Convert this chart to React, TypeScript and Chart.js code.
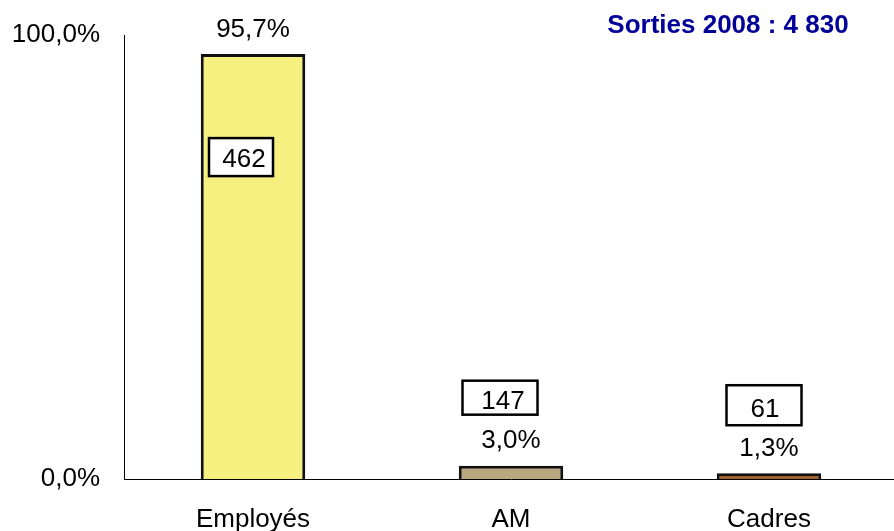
import React, { useEffect, useRef } from "react";
import { Chart, registerables } from "chart.js";

Chart.register(...registerables);

const categories = ["Employés", "AM", "Cadres"];
const percentValues = [95.7, 3.0, 1.3];
const countValues = [462, 147, 61];
const yTickValues = [0, 100];
const titleText = "Sorties 2008 : 4 830";

const barColors = ["#F5F07F", "#B8A77F", "#A0622C"];
// label placement (pixels, relative to each bar's top/centre)
const pctOffsetY = [24, 25, 24];
const boxDx = [-12, -11, -5];
const boxDy = [103, -68, -68];
const boxW = [64, 75, 75];
const boxH = [38, 34, 40];
const txtDx = [3, 3, 1];
const txtDy = [3, 4, 5];

const FONT = "'Liberation Sans', Arial, sans-serif";

const labelPlugin = {
  id: "customLabels",
  afterDatasetsDraw(chart: any) {
    const ctx = chart.ctx;
    const meta = chart.getDatasetMeta(0);
    ctx.save();
    meta.data.forEach((bar: any, i: number) => {
      const x = bar.x;
      const top = bar.y;
      ctx.fillStyle = "#000";
      ctx.font = `26px ${FONT}`;
      ctx.textAlign = "center";
      ctx.textBaseline = "middle";
      ctx.fillText(
        percentValues[i].toFixed(1).replace(".", ",") + "%",
        x,
        top - pctOffsetY[i]
      );
      const cx = x + boxDx[i];
      const cy = top + boxDy[i];
      ctx.fillStyle = "#fff";
      ctx.fillRect(cx - boxW[i] / 2, cy - boxH[i] / 2, boxW[i], boxH[i]);
      ctx.lineWidth = 2.5;
      ctx.strokeStyle = "#000";
      ctx.strokeRect(cx - boxW[i] / 2, cy - boxH[i] / 2, boxW[i], boxH[i]);
      ctx.fillStyle = "#000";
      ctx.fillText(String(countValues[i]), cx + txtDx[i], cy + txtDy[i]);
    });
    ctx.font = `bold 26px ${FONT}`;
    ctx.fillStyle = "#000099";
    ctx.textAlign = "center";
    ctx.textBaseline = "middle";
    ctx.fillText(titleText, 728, 26);
    ctx.restore();
  },
};

export default function App() {
  const ref = useRef<HTMLCanvasElement>(null);
  useEffect(() => {
    if (!ref.current) return;
    const chart = new Chart(ref.current, {
      type: "bar",
      data: {
        labels: categories,
        datasets: [
          {
            data: percentValues,
            backgroundColor: barColors,
            borderColor: "#111",
            borderWidth: 3,
            barPercentage: 0.405,
            categoryPercentage: 1,
          },
        ],
      },
      options: {
        animation: false,
        responsive: false,
        devicePixelRatio: 1,
        layout: { padding: { top: 35, left: 0, right: 0, bottom: 0 } },
        plugins: {
          legend: { display: false },
          tooltip: { enabled: false },
        },
        scales: {
          x: {
            grid: { display: false, drawTicks: false },
            border: { display: true, color: "#000", width: 1 },
            ticks: {
              color: "#000",
              font: { family: FONT, size: 26 },
              padding: 25,
              maxRotation: 0,
            },
            afterFit: (s: any) => {
              s.height = 52;
              s.paddingLeft = 0;
              s.paddingRight = 0;
            },
          },
          y: {
            min: 0,
            max: 100,
            grid: { display: false, drawTicks: false },
            border: { display: true, color: "#000", width: 1 },
            afterBuildTicks: (s: any) => {
              s.ticks = yTickValues.map((v) => ({ value: v }));
            },
            ticks: {
              color: "#000",
              font: { family: FONT, size: 26 },
              padding: 24,
              callback: (v: any) => Number(v).toFixed(1).replace(".", ",") + "%",
            },
            afterFit: (s: any) => {
              s.width = 124;
              s.paddingTop = 0;
              s.paddingBottom = 0;
            },
          },
        },
      },
      plugins: [labelPlugin],
    });
    return () => chart.destroy();
  }, []);
  return (
    <div style={{ position: "absolute", left: 0, top: 0, width: 894, height: 531, overflow: "hidden", background: "#fff" }}>
      <canvas ref={ref} width={898} height={531} style={{ display: "block" }} />
    </div>
  );
}
